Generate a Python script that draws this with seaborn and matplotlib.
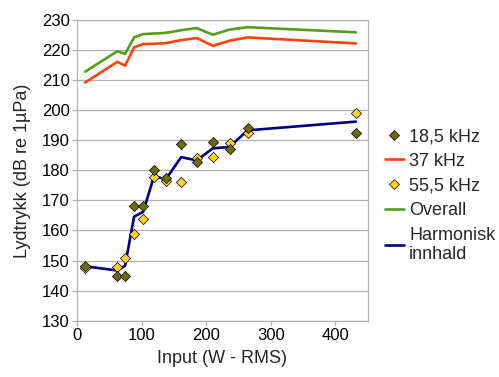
import matplotlib
matplotlib.use("Agg")
import matplotlib.pyplot as plt
import seaborn as sns
import pandas as pd
from matplotlib.lines import Line2D

# ---- data ----
input_w = [12, 62, 74, 88, 102, 119, 137, 161, 185, 210, 236, 264, 432]
khz_18_5 = [148.1, 144.8, 144.8, 168.1, 168.1, 180.0, 177.3, 188.7, 182.8, 189.4, 187.0, 194.0, 192.3]
khz_37 = [209.2, 216.1, 214.8, 220.9, 222.0, 222.1, 222.3, 223.3, 224.0, 221.4, 223.1, 224.2, 222.2]
khz_55_5 = [147.5, 147.9, 150.9, 159.0, 163.9, 177.8, 176.4, 176.1, 184.0, 184.6, 189.0, 192.4, 199.0]
overall = [212.8, 219.6, 218.7, 224.2, 225.3, 225.5, 225.7, 226.6, 227.3, 225.1, 226.8, 227.6, 225.9]
harmonisk = [148.1, 146.7, 148.3, 164.6, 166.2, 178.1, 177.0, 184.4, 183.3, 187.3, 187.8, 193.3, 196.2]

labels = ["18,5 kHz", "37 kHz", "55,5 kHz", "Overall", "Harmonisk\ninnhald"]
x_ticks = [0, 100, 200, 300, 400]
y_ticks = list(range(130, 231, 10))

sns.set_style("white")
plt.rcParams['font.family'] = ['Liberation Sans', 'DejaVu Sans']

c18 = "#6b6b00"
c37 = "#ff420e"
c55 = "#ffd320"
cov = "#579d1c"
charm = "#000080"
grey = "#b3b3b3"

fig = plt.figure(figsize=(4.99, 3.77), dpi=100)
ax = fig.add_axes([0.155, 0.1493, 0.5815, 0.7977])

df = pd.DataFrame({"x": input_w, "f18": khz_18_5, "f37": khz_37, "f55": khz_55_5,
                   "ov": overall, "harm": harmonisk})

lw = 1.9
sns.lineplot(data=df, x="x", y="f37", ax=ax, color=c37, linewidth=lw, sort=False, zorder=3)
sns.lineplot(data=df, x="x", y="ov", ax=ax, color=cov, linewidth=lw, sort=False, zorder=3)
sns.lineplot(data=df, x="x", y="harm", ax=ax, color=charm, linewidth=lw, sort=False, zorder=3)
sns.scatterplot(data=df, x="x", y="f55", ax=ax, color=c55, marker="D", s=27,
                edgecolor="black", linewidth=0.5, zorder=4)
sns.scatterplot(data=df, x="x", y="f18", ax=ax, color=c18, marker="D", s=27,
                edgecolor="black", linewidth=0.5, zorder=5)

ax.set_xlim(0, 450)
ax.set_ylim(130, 230)
ax.set_xticks(x_ticks)
ax.set_yticks(y_ticks)
ax.yaxis.grid(True, color=grey, linewidth=0.9)
ax.xaxis.grid(False)
for s in ax.spines.values():
    s.set_color(grey)
    s.set_linewidth(0.9)
ax.tick_params(axis="both", which="major", direction="out", length=3.5, width=0.9,
               color=grey, labelsize=12, labelcolor="black", pad=2,
               left=True, bottom=True)
ax.set_xlabel("Input (W - RMS)", fontsize=13, labelpad=5)
ax.set_ylabel("Lydtrykk (dB re 1µPa)", fontsize=13, labelpad=8)

handles = [
    Line2D([], [], linestyle="none", marker="D", markersize=5.5, markerfacecolor=c18,
           markeredgecolor="black", markeredgewidth=0.5),
    Line2D([], [], color=c37, linewidth=lw),
    Line2D([], [], linestyle="none", marker="D", markersize=5.5, markerfacecolor=c55,
           markeredgecolor="black", markeredgewidth=0.5),
    Line2D([], [], color=cov, linewidth=lw),
    Line2D([], [], color=charm, linewidth=lw),
]
leg = ax.legend(handles, labels, loc="upper left", bbox_to_anchor=(0.771, 0.660),
                bbox_transform=fig.transFigure, frameon=False, fontsize=13,
                handlelength=1.05, handletextpad=0.3, labelspacing=0.42,
                borderaxespad=0, borderpad=0)

fig.savefig("out.png", dpi=100)
